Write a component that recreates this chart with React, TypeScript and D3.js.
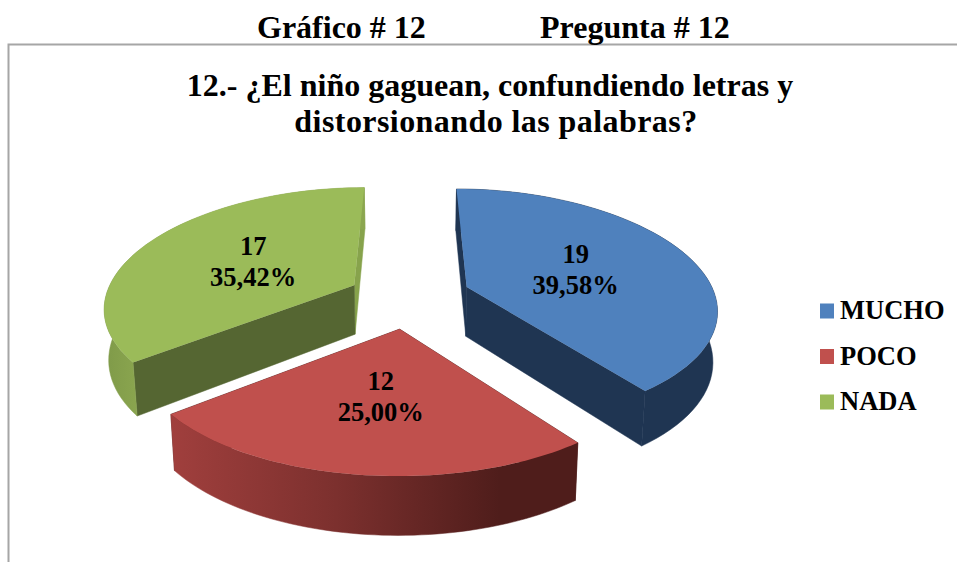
import React from "react";
import * as d3 from "d3";

const categories = ["MUCHO", "POCO", "NADA"];
const counts = [19, 12, 17];
const percentLabels = ["39,58%", "25,00%", "35,42%"];
const headerLeft = "Gráfico # 12";
const headerRight = "Pregunta # 12";
const titleLines = ["12.- ¿El niño gaguean, confundiendo letras y", "distorsionando las palabras?"];

const topColors = ["#4f81bd", "#c0504d", "#9bbb59"];
const startCutColors = ["#1f3552", "#4f1d1b", "#556632"];
const endCutColors = ["#1f3552", "#4f1d1b", "#87a34c"];
const rimFill = ["#1f3552", "url(#rimRed)", "url(#rimGreen)"];
// explosion of every slice in pie-radius units
const explodeX = [0.231, -0.04, -0.228];
const explodeY = [-0.098, 0.21, -0.113];

const CX = 410, CY = 300, RX = 250, RY = 133.7, SQUASH = 0.9, PERSP = 0.168, PERSP_X = 0.195, DEPTH = 50, TAPER = 0.015;
const FONT = "'Liberation Serif', 'Times New Roman', serif";

type Pt = [number, number];
const project = (X: number, Y: number, z: number): Pt => {
  const s = 1 + PERSP * Y;
  const sx = 1 + PERSP_X * Y;
  return [CX + X * RX * sx * (1 - TAPER * z), CY + Y * RY * s + z * DEPTH * s];
};

export default function App() {
  const arcs = d3.pie<number>().sort(null).value((d) => d)(counts);
  const line = d3.line<Pt>();
  const ptAt = (i: number, a: number, r: number, z: number) =>
    project(explodeX[i] + r * Math.sin(a), explodeY[i] - SQUASH * r * Math.cos(a), z);

  const slices = arcs.map((arc, i) => {
    const angles = d3.range(0, 61).map((k) => arc.startAngle + ((arc.endAngle - arc.startAngle) * k) / 60);
    const rimTop = angles.map((a) => ptAt(i, a, 1, 0));
    const rimBottom = angles.map((a) => ptAt(i, a, 1, 1));
    const apexTop = ptAt(i, 0, 0, 0);
    const apexBottom = ptAt(i, 0, 0, 1);
    return {
      i,
      top: line([apexTop, ...rimTop])! + "Z",
      rim: line([...rimTop, ...rimBottom.slice().reverse()])! + "Z",
      cutA: line([apexTop, rimTop[0], rimBottom[0], apexBottom])! + "Z",
      cutB: line([apexTop, rimTop[60], rimBottom[60], apexBottom])! + "Z",
      label: ptAt(i, (arc.startAngle + arc.endAngle) / 2, 0.49, 0),
    };
  });
  const order = [2, 0, 1];
  const legendY = d3.scalePoint<string>().domain(categories).range([311, 402]);
  const titleX = [490, 496];
  const titleSpacing = [0, 0.43];

  return (
    <svg width={957} height={562} style={{ position: "absolute", left: 0, top: 0, background: "#fff" }} fontFamily={FONT}>
      <defs>
        <linearGradient id="rimRed" gradientUnits="userSpaceOnUse" x1={172} x2={500} y1={0} y2={0}>
          <stop offset="0" stopColor="#a03f3d" />
          <stop offset="0.5" stopColor="#7c302e" />
          <stop offset="1" stopColor="#4f1d1b" />
        </linearGradient>
        <linearGradient id="rimGreen" gradientUnits="userSpaceOnUse" x1={104} x2={140} y1={0} y2={0}>
          <stop offset="0" stopColor="#7f9a49" />
          <stop offset="1" stopColor="#8ba64f" />
        </linearGradient>
      </defs>
      <path d="M957,44.5H8.5V562" fill="none" stroke="#a6a6a6" strokeWidth={2} />
      <g fontWeight="bold" fontSize={32} textAnchor="start" fill="#000">
        <text x={257} y={38}>{headerLeft}</text>
        <text x={540} y={38}>{headerRight}</text>
      </g>
      <g fontWeight="bold" fontSize={32} textAnchor="middle" fill="#000">
        {titleLines.map((t, i) => (
          <text key={t} x={titleX[i]} y={96 + i * 36} letterSpacing={titleSpacing[i]}>{t}</text>
        ))}
      </g>
      {order.map((i) => {
        const s = slices[i];
        return (
          <g key={categories[i]}>
            <path d={s.cutB} fill={endCutColors[i]} stroke={endCutColors[i]} strokeWidth={0.5} />
            <path d={s.cutA} fill={startCutColors[i]} stroke={startCutColors[i]} strokeWidth={0.5} />
            <path d={s.rim} fill={rimFill[i]} stroke={rimFill[i]} strokeWidth={0.5} />
            <path d={s.top} fill={topColors[i]} />
          </g>
        );
      })}
      {slices.map((s) => (
        <g key={s.i} fontWeight="bold" fontSize={26.5} textAnchor="middle" fill="#000">
          <text x={s.label[0]} y={s.label[1] - 6}>{counts[s.i]}</text>
          <text x={s.label[0]} y={s.label[1] + 25}>{percentLabels[s.i]}</text>
        </g>
      ))}
      {categories.map((c, i) => (
        <g key={c}>
          <rect x={820} y={legendY(c)! - 7.5} width={14} height={15} fill={topColors[i]} />
          <text x={840} y={legendY(c)! + 8} fontWeight="bold" fontSize={26.5} fill="#000">{c}</text>
        </g>
      ))}
    </svg>
  );
}
